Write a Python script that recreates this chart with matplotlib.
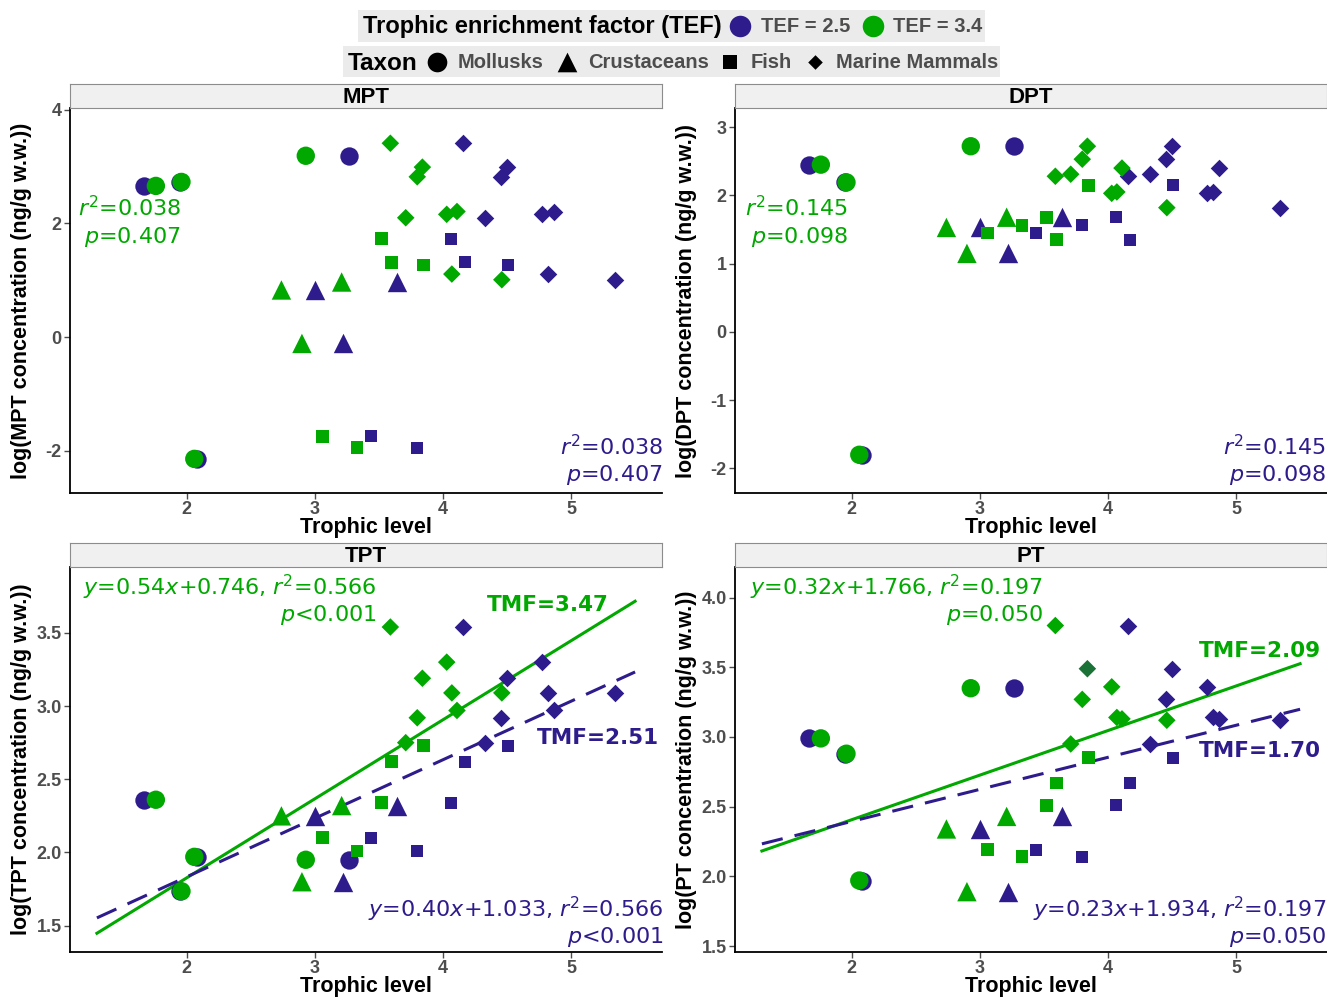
import matplotlib
matplotlib.use('Agg')
import matplotlib.pyplot as plt
import numpy as np

# Niveis troficos de cada especie, para os dois fatores de enriquecimento
tl_tef34 = [1.76, 1.96, 2.06, 2.93, 2.74, 2.90, 3.21, 3.52, 3.60, 3.85,
            3.06, 3.33, 3.59, 3.84, 3.80, 3.71, 4.03, 4.11, 4.07, 4.46]
tl_tef25 = [1.67, 1.95, 2.08, 3.27, 3.00, 3.22, 3.64, 4.06, 4.17, 4.51,
            3.44, 3.80, 4.16, 4.50, 4.45, 4.33, 4.77, 4.87, 4.82, 5.34]
taxon = ['Mollusks'] * 4 + ['Crustaceans'] * 3 + ['Fish'] * 5 + ['Marine Mammals'] * 8

# log das concentracoes (ng/g w.w.)
mpt = [2.66, 2.73, -2.14, 3.19, 0.83, -0.11, 0.97, 1.73, 1.32, 1.27,
       -1.74, -1.94, 3.41, 2.99, 2.82, 2.10, 2.16, 2.21, 1.11, 1.01]
dpt = [2.45, 2.19, -1.80, 2.72, 1.53, 1.15, 1.68, 1.68, 1.35, 2.15,
       1.45, 1.56, 2.28, 2.72, 2.53, 2.31, 2.03, 2.40, 2.05, 1.82]
tpt = [2.36, 1.735, 1.97, 1.95, 2.25, 1.80, 2.32, 2.34, 2.62, 2.73,
       2.10, 2.01, 3.54, 3.19, 2.92, 2.75, 3.30, 2.97, 3.09, 3.09]
pt = [2.99, 2.88, 1.97, 3.35, 2.34, 1.89, 2.43, 2.51, 2.67, 2.85,
      2.19, 2.14, 3.80, 3.49, 3.27, 2.95, 3.36, 3.13, 3.14, 3.12]

# retas de regressao (inclinacao, intercepto)
tpt_fit_34 = (0.54, 0.746)
tpt_fit_25 = (0.40, 1.033)
pt_fit_34 = (0.32, 1.766)
pt_fit_25 = (0.23, 1.934)
fit_range = [1.3, 5.5]

BLUE = '#2E1C8C'
GREEN = '#00A800'
DARKGREEN = '#1B7236'
GREY = '#4D4D4D'

W, H = 1327, 998
fig = plt.figure(figsize=(W / 100, H / 100), dpi=100)
fig.patch.set_facecolor('white')

SANS = 'Liberation Sans'
ANN = 'DejaVu Sans'

markers = {'Mollusks': ('o', 175), 'Crustaceans': ('^', 195),
           'Fish': ('s', 85), 'Marine Mammals': ('D', 80)}


def rect(l, r, t, b):
    return [l / W, 1 - b / H, (r - l) / W, (b - t) / H]


def ftext(x, y, s, color, ha='left', size=16, weight='normal'):
    fig.text(x / W, 1 - y / H, s, color=color, ha=ha, va='center',
             fontsize=size, family=ANN, fontweight=weight)


def painel(nome, valores, ylim, yticks, fmt, l, t, colors34=None):
    r, b = l + 592, t + 385
    ax = fig.add_axes(rect(l, r, t, b))
    strip = fig.add_axes(rect(l, r, t - 24, t))
    strip.set_facecolor('#F0F0F0')
    strip.set_xticks([])
    strip.set_yticks([])
    for s in strip.spines.values():
        s.set_color('#8C8C8C')
    strip.text(0.5, 0.45, nome, ha='center', va='center', fontsize=16,
               fontweight='bold', family=SANS)

    tl25 = np.array(tl_tef25)
    tl34 = np.array(tl_tef34)
    y = np.array(valores)
    tx = np.array(taxon)
    if colors34 is None:
        colors34 = [GREEN] * len(y)
    c34 = np.array(colors34)
    for tl, cor in [(tl25, None), (tl34, c34)]:
        for nome_t, (mk, sz) in markers.items():
            m = tx == nome_t
            cc = BLUE if cor is None else cor[m]
            ax.scatter(tl[m], y[m], marker=mk, s=sz, c=cc, linewidths=0, zorder=3)

    ax.set_xlim(1.09, 5.71)
    ax.set_ylim(*ylim)
    ax.set_xticks([2, 3, 4, 5])
    ax.set_yticks(yticks)
    ax.set_yticklabels([fmt.format(v) for v in yticks])
    for s in ['top', 'right']:
        ax.spines[s].set_visible(False)
    for s in ['left', 'bottom']:
        ax.spines[s].set_linewidth(1.3)
        ax.spines[s].set_color('black')
    ax.tick_params(length=4, width=1, color=GREY, labelcolor=GREY, labelsize=13, pad=2)
    for lab in ax.get_xticklabels() + ax.get_yticklabels():
        lab.set_fontweight('bold')
        lab.set_family(SANS)
    ax.set_xlabel('Trophic level', fontsize=15.5, fontweight='bold', family=SANS)
    ax.xaxis.set_label_coords(0.5, -0.062)
    ax.set_ylabel('log(' + nome + ' concentration (ng/g w.w.))', fontsize=15.5,
                  fontweight='bold', family=SANS)
    ax.yaxis.set_label_coords(-0.064, 0.5)
    return ax


def reta(ax, fit, cor, estilo):
    xs = np.array(fit_range)
    ax.plot(xs, fit[0] * xs + fit[1], color=cor, lw=2.2, ls=estilo, zorder=2,
            dashes=(7, 4) if estilo == '--' else (None, None))


ax1 = painel('MPT', mpt, (-2.74, 4.03), [-2, 0, 2, 4], '{:g}', 70, 108)
ax2 = painel('DPT', dpt, (-2.36, 3.28), [-2, -1, 0, 1, 2, 3], '{:g}', 735, 108)
ax3 = painel('TPT', tpt, (1.32, 3.95), [1.5, 2.0, 2.5, 3.0, 3.5], '{:.1f}', 70, 567)
cores_pt = [GREEN] * 20
cores_pt[13] = DARKGREEN
ax4 = painel('PT', pt, (1.457, 4.22), [1.5, 2.0, 2.5, 3.0, 3.5, 4.0], '{:.1f}', 735, 567,
             colors34=cores_pt)

reta(ax3, tpt_fit_34, GREEN, '-')
reta(ax3, tpt_fit_25, BLUE, '--')
reta(ax4, pt_fit_34, GREEN, '-')
reta(ax4, pt_fit_25, BLUE, '--')

# anotacoes
ftext(181, 208, r'$r^2$=0.038', GREEN, ha='right')
ftext(181, 237, r'$p$=0.407', GREEN, ha='right')
ftext(663, 447, r'$r^2$=0.038', BLUE, ha='right')
ftext(663, 475, r'$p$=0.407', BLUE, ha='right')

ftext(848, 208, r'$r^2$=0.145', GREEN, ha='right')
ftext(848, 237, r'$p$=0.098', GREEN, ha='right')
ftext(1326, 447, r'$r^2$=0.145', BLUE, ha='right')
ftext(1326, 475, r'$p$=0.098', BLUE, ha='right')

ftext(376, 587, r'$y$=0.54$x$+0.746, $r^2$=0.566', GREEN, ha='right')
ftext(376, 615, r'$p$<0.001', GREEN, ha='right')
ftext(663, 909, r'$y$=0.40$x$+1.033, $r^2$=0.566', BLUE, ha='right')
ftext(663, 937, r'$p$<0.001', BLUE, ha='right')
ftext(609, 605, 'TMF=3.47', GREEN, ha='right', size=15.5, weight='bold')
ftext(659, 738, 'TMF=2.51', BLUE, ha='right', size=15.5, weight='bold')

ftext(1043, 587, r'$y$=0.32$x$+1.766, $r^2$=0.197', GREEN, ha='right')
ftext(1043, 615, r'$p$=0.050', GREEN, ha='right')
ftext(1326, 909, r'$y$=0.23$x$+1.934, $r^2$=0.197', BLUE, ha='right')
ftext(1326, 937, r'$p$=0.050', BLUE, ha='right')
ftext(1321, 651, 'TMF=2.09', GREEN, ha='right', size=15.5, weight='bold')
ftext(1321, 751, 'TMF=1.70', BLUE, ha='right', size=15.5, weight='bold')

# legendas do topo
lg1 = fig.add_axes(rect(358, 985, 10, 42))
lg1.set_xlim(358, 985)
lg1.set_ylim(42, 10)
lg1.axis('off')
lg1.add_patch(plt.Rectangle((358, 10), 627, 32, color='#EBEBEB', zorder=0))
lg1.text(363, 27, 'Trophic enrichment factor (TEF)', fontsize=17, fontweight='bold',
         family=SANS, va='center')
lg1.scatter([740], [26], s=240, c=BLUE, marker='o', linewidths=0)
lg1.text(761, 27, 'TEF = 2.5', fontsize=14.5, fontweight='bold', color=GREY, family=SANS, va='center')
lg1.scatter([873], [26], s=240, c=GREEN, marker='o', linewidths=0)
lg1.text(893, 27, 'TEF = 3.4', fontsize=14.5, fontweight='bold', color=GREY, family=SANS, va='center')

lg2 = fig.add_axes(rect(343, 1000, 46, 77))
lg2.set_xlim(343, 1000)
lg2.set_ylim(77, 46)
lg2.axis('off')
lg2.add_patch(plt.Rectangle((343, 46), 657, 31, color='#EBEBEB', zorder=0))
lg2.text(348, 63, 'Taxon', fontsize=17.5, fontweight='bold', family=SANS, va='center')
itens = [(437, 'Mollusks', 'o', 200), (567, 'Crustaceans', '^', 200),
         (730, 'Fish', 's', 95), (815, 'Marine Mammals', 'D', 55)]
for xpos, lab, mk, sz in itens:
    lg2.scatter([xpos], [62], s=sz, c='black', marker=mk, linewidths=0)
    lg2.text(xpos + 21, 63, lab, fontsize=14.5, fontweight='bold', color=GREY,
             family=SANS, va='center')

fig.savefig('out.png', dpi=100)
